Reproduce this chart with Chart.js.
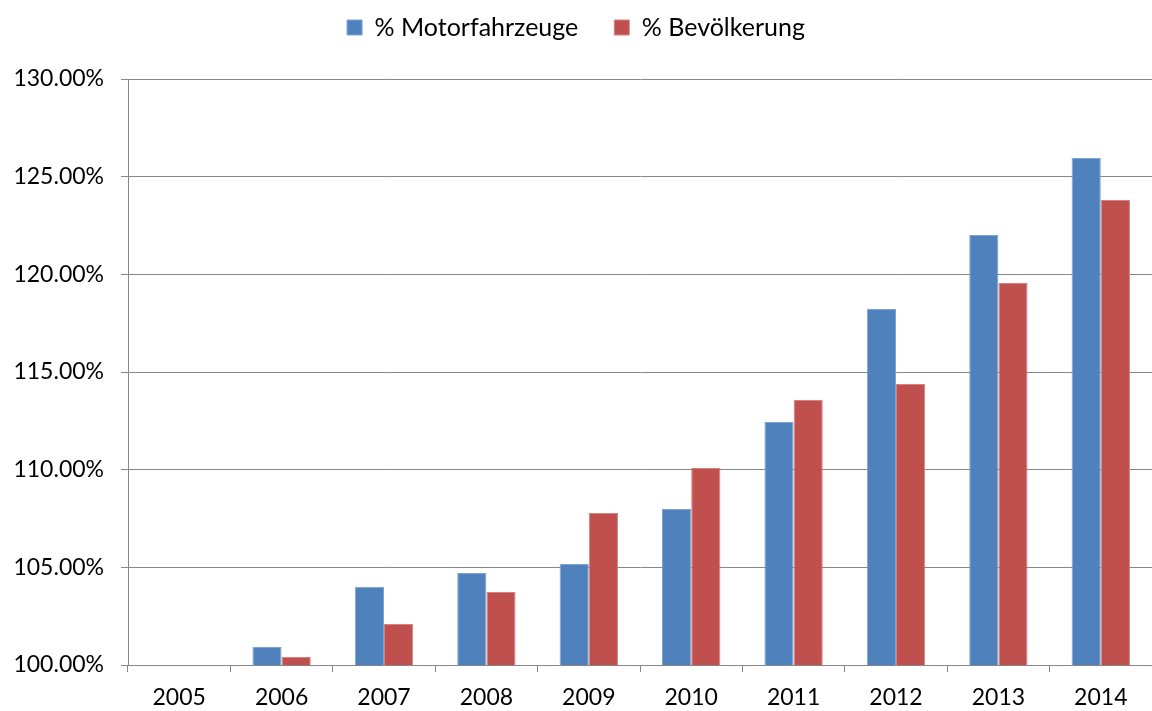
<!DOCTYPE html>
<html>
<head>
<meta charset="utf-8">
<script src="https://cdn.jsdelivr.net/npm/chart.js@4"></script>
<style>
  html, body { margin: 0; padding: 0; background: #fff; }
  #wrap { width: 1152px; height: 711px; }
</style>
</head>
<body>
<div id="wrap"><canvas id="chart" width="1152" height="711"></canvas></div>
<script>
// data
const years = ["2005", "2006", "2007", "2008", "2009", "2010", "2011", "2012", "2013", "2014"];
const motorfahrzeuge = [100.0, 100.92, 104.0, 104.71, 105.17, 107.99, 112.44, 118.23, 122.02, 125.96];
const bevoelkerung = [100.0, 100.41, 102.1, 103.74, 107.78, 110.09, 113.57, 114.39, 119.56, 123.81];
const yTicks = [100, 105, 110, 115, 120, 125, 130];

const FONT = "Lato, 'Open Sans', sans-serif";
const GRID = "#878787";
const LEGEND_PAD = 36;

Chart.defaults.font.family = FONT;
Chart.defaults.font.size = 23;
Chart.defaults.color = "#000";

// legend keeps its text near the top but reserves room down to the plot
const legendSpace = {
  id: "legendSpace",
  afterInit(chart) {
    const lg = chart.legend;
    if (!lg) return;
    const fit = lg.fit.bind(lg);
    lg.fit = function () {
      fit();
      this.height = 79 + 21;
      this.minSize && (this.minSize.height = 79 + 21);
    };
  },
};

const ctx = document.getElementById("chart").getContext("2d");
new Chart(ctx, {
  type: "bar",
  data: {
    labels: years,
    datasets: [
      {
        label: "% Motorfahrzeuge",
        data: motorfahrzeuge,
        backgroundColor: "#4F81BD",
        borderColor: "#7FA3D3",
        borderWidth: 1,
        borderSkipped: "bottom",
      },
      {
        label: "% Bevölkerung",
        data: bevoelkerung,
        backgroundColor: "#C0504D",
        borderColor: "#D88280",
        borderWidth: 1,
        borderSkipped: "bottom",
      },
    ],
  },
  options: {
    responsive: false,
    animation: false,
    layout: { padding: { top: -21, left: 0, right: 0, bottom: 0 } },
    plugins: {
      legend: {
        position: "top",
        labels: {
          font: { family: FONT, size: 25 },
          color: "#000",
          boxWidth: 15,
          boxHeight: 15,
          padding: LEGEND_PAD,
        },
      },
      tooltip: { enabled: false },
    },
    datasets: {
      bar: { categoryPercentage: 0.57, barPercentage: 1.0 },
    },
    scales: {
      x: {
        grid: {
          offset: true,
          drawOnChartArea: false,
          drawTicks: true,
          tickLength: 7,
          color: GRID,
        },
        border: { color: GRID, width: 1 },
        ticks: {
          font: { family: FONT, size: 23 },
          color: "#000",
          padding: 12,
        },
        afterFit: (scale) => { scale.height = 46; },
      },
      y: {
        min: 100,
        max: 130,
        afterBuildTicks: (scale) => {
          scale.ticks = yTicks.map((v) => ({ value: v }));
        },
        grid: {
          color: GRID,
          tickLength: 7,
        },
        border: { color: GRID, width: 1 },
        ticks: {
          font: { family: FONT, size: 23 },
          color: "#000",
          padding: 17,
          callback: (v) => v.toFixed(2) + "%",
        },
        afterFit: (scale) => { scale.width = 128; },
      },
    },
  },
  plugins: [legendSpace],
});
</script>
</body>
</html>
